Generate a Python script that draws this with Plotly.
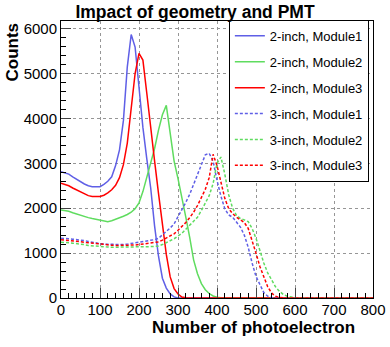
import plotly.graph_objects as go

# bins de 10 p.e.
bins = list(range(0, 810, 10))

inch2_mod1 = [2815, 2790, 2760, 2700, 2640, 2590, 2540, 2500, 2480, 2480,
              2480, 2530, 2600, 2700, 2950, 3300, 3950, 5150, 5870, 5590,
              4650, 3800, 3100, 2450, 1600, 930, 440, 220, 90, 25, 0]
inch2_mod2 = [1960, 1950, 1930, 1900, 1870, 1850, 1820, 1790, 1770, 1750,
              1740, 1720, 1700, 1720, 1750, 1780, 1820, 1860, 1910, 1990,
              2120, 2370, 2700, 3000, 3330, 3740, 4080, 4290, 3620, 3050,
              2660, 2260, 1800, 1350, 850, 540, 320, 185, 100, 45,
              15, 5, 0]
inch2_mod3 = [2555, 2530, 2500, 2450, 2410, 2370, 2320, 2280, 2260, 2260,
              2260, 2290, 2340, 2410, 2510, 2680, 2970, 3450, 4200, 5000,
              5450, 5300, 4560, 3750, 3050, 2330, 1680, 970, 470, 210,
              90, 20, 5, 0]
inch3_mod1 = [1330, 1330, 1320, 1310, 1300, 1300, 1280, 1260, 1240, 1220,
              1210, 1200, 1195, 1190, 1185, 1185, 1190, 1200, 1215, 1225,
              1235, 1250, 1260, 1280, 1300, 1330, 1400, 1470, 1560, 1650,
              1800, 1960, 2130, 2310, 2540, 2760, 2980, 3190, 3220, 3050,
              2620, 2270, 1990, 1850, 1800, 1680, 1580, 1400, 1130, 780,
              480, 300, 120, 40, 10, 0]
inch3_mod2 = [1240, 1240, 1230, 1220, 1210, 1210, 1190, 1170, 1160, 1150,
              1150, 1140, 1135, 1130, 1130, 1130, 1130, 1130, 1130, 1135,
              1135, 1140, 1140, 1145, 1150, 1160, 1190, 1230, 1280, 1320,
              1380, 1440, 1530, 1620, 1700, 1800, 1950, 2100, 2280, 2550,
              3000, 3140, 2760, 2300, 2000, 1840, 1770, 1740, 1700, 1550,
              1330, 1060, 780, 560, 400, 250, 150, 80, 40, 15,
              5, 0]
inch3_mod3 = [1300, 1290, 1280, 1270, 1260, 1250, 1240, 1225, 1210, 1200,
              1200, 1190, 1180, 1175, 1170, 1170, 1170, 1170, 1175, 1180,
              1190, 1200, 1210, 1220, 1230, 1250, 1290, 1340, 1390, 1430,
              1510, 1590, 1680, 1790, 1910, 2060, 2240, 2420, 2680, 3200,
              2950, 2560, 2220, 1990, 1880, 1800, 1740, 1680, 1550, 1300,
              1000, 700, 450, 250, 110, 40, 10, 0]

noms = ["2-inch, Module1", "2-inch, Module2", "2-inch, Module3",
        "3-inch, Module1", "3-inch, Module2", "3-inch, Module3"]
series = [inch2_mod1, inch2_mod2, inch2_mod3, inch3_mod1, inch3_mod2, inch3_mod3]

bleu = "rgb(95,95,230)"
vert = "rgb(95,220,95)"
rouge = "rgb(255,0,0)"
couleurs = [bleu, vert, rouge, bleu, vert, rouge]
tirets = ["solid", "solid", "solid", "3px,2px", "3px,2px", "3px,2px"]

fig = go.Figure()
for i, (nom, vals) in enumerate(zip(noms, series)):
    y = vals + [0] * (len(bins) - len(vals))
    fig.add_trace(go.Scatter(x=bins, y=y, mode="lines", name=nom,
                             legendgroup=f"g{i}",
                             line=dict(color=couleurs[i], width=1.5, dash=tirets[i])))

police = "Liberation Sans, Arial, sans-serif"
fig.update_layout(
    width=390, height=347,
    margin=dict(l=61, r=17, t=21, b=49, autoexpand=False),
    paper_bgcolor="white", plot_bgcolor="white",
    font=dict(family=police, size=15, color="black"),
    title=dict(text="<b>Impact of geometry and PMT</b>", x=0.5, xanchor="center",
               y=0.967, yanchor="middle", font=dict(size=17.5)),
    legend=dict(x=0.538, y=1.004, xanchor="left", yanchor="top",
                bgcolor="white", bordercolor="black", borderwidth=1,
                font=dict(size=13), tracegroupgap=6, itemwidth=30),
    showlegend=True,
)
fig.update_xaxes(range=[0, 800], dtick=100, ticks="inside", ticklen=10,
                 showline=True, linecolor="black", mirror=True, ticklabeloverflow="allow",
                 ticklabelstandoff=-2,
                 showgrid=True, gridcolor="rgb(150,150,150)", griddash="dot", gridwidth=1,
                 zeroline=False,
                 minor=dict(dtick=20, ticks="inside", ticklen=5, tickcolor="black", showgrid=False))
fig.update_yaxes(range=[0, 6170], dtick=1000, ticks="inside", ticklen=10,
                 showline=True, linecolor="black", mirror=True, ticklabeloverflow="allow",
                 showgrid=True, gridcolor="rgb(150,150,150)", griddash="dot", gridwidth=1,
                 zeroline=False,
                 minor=dict(dtick=200, ticks="inside", ticklen=5, tickcolor="black", showgrid=False))

fig.add_annotation(text="<b>Number of photoelectron</b>", xref="paper", yref="paper",
                   x=(357 - 61) / 312, y=-0.107, xanchor="right", yanchor="middle",
                   showarrow=False, font=dict(size=17))
fig.add_annotation(text="<b>Counts</b>", xref="paper", yref="paper",
                   x=-0.157, y=1.0, xanchor="center", yanchor="top", textangle=-90,
                   showarrow=False, font=dict(size=17))

fig.write_html("out.html", config={"displayModeBar": False},
               post_script="document.body.style.margin='0';")
